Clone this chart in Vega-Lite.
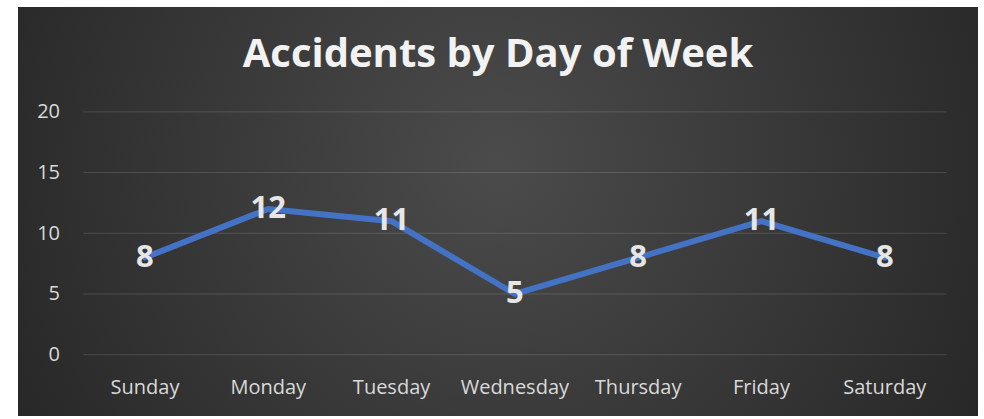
{
  "$schema": "https://vega.github.io/schema/vega-lite/v6.json",
  "width": 960,
  "height": 409,
  "autosize": {"type": "none"},
  "padding": {"left": 18, "top": 7, "right": 6, "bottom": 3},
  "background": "#ffffff",
  "view": {
    "stroke": null,
    "fill": {
      "gradient": "radial",
      "x1": 0.5, "y1": 0.45, "r1": 0,
      "x2": 0.5, "y2": 0.45, "r2": 0.62,
      "stops": [
        {"offset": 0, "color": "#4b4b4b"},
        {"offset": 1, "color": "#242424"}
      ]
    }
  },
  "title": {
    "text": "Accidents by Day of Week",
    "font": "Open Sans",
    "fontSize": 40,
    "fontWeight": "bold",
    "color": "#f2f2f2",
    "anchor": "middle",
    "frame": "group",
    "offset": -68
  },
  "config": {
    "axis": {
      "labelFont": "Open Sans",
      "labelFontSize": 20,
      "labelColor": "#d9d9d9",
      "grid": false,
      "domain": false,
      "ticks": false,
      "tickSize": 0,
      "labelPadding": 0
    },
    "axisX": {"offset": -23, "labelBaseline": "alphabetic", "labelAngle": 0},
    "axisY": {"offset": -41.5, "labelAlign": "right", "labelBaseline": "middle"}
  },
  "datasets": {
    "accidents": [
      {"day": "Sunday", "count": 8},
      {"day": "Monday", "count": 12},
      {"day": "Tuesday", "count": 11},
      {"day": "Wednesday", "count": 5},
      {"day": "Thursday", "count": 8},
      {"day": "Friday", "count": 11},
      {"day": "Saturday", "count": 8}
    ],
    "grid": [
      {"count": 0}, {"count": 5}, {"count": 10}, {"count": 15}, {"count": 20}
    ]
  },
  "layer": [
    {
      "data": {"name": "grid"},
      "mark": {"type": "rule", "color": "#ffffff", "opacity": 0.14, "strokeWidth": 1},
      "encoding": {
        "y": {"field": "count", "type": "quantitative",
              "scale": {"domain": [-5.05, 28.64], "nice": false, "zero": false},
              "axis": {"title": null, "values": [0, 5, 10, 15, 20]}},
        "x": {"datum": "Sunday", "type": "nominal", "bandPosition": 0,
              "sort": ["Sunday", "Monday", "Tuesday", "Wednesday", "Thursday", "Friday", "Saturday"],
              "scale": {"type": "band", "paddingInner": 0, "paddingOuter": 0.393, "align": 0.674},
              "axis": {"title": null}},
        "x2": {"datum": "Saturday", "bandPosition": 1}
      }
    },
    {
      "data": {"name": "accidents"},
      "mark": {"type": "line", "color": "#4472C4", "strokeWidth": 6, "strokeCap": "round", "strokeJoin": "round"},
      "encoding": {
        "x": {"field": "day", "type": "nominal",
              "sort": ["Sunday", "Monday", "Tuesday", "Wednesday", "Thursday", "Friday", "Saturday"],
              "scale": {"type": "band", "paddingInner": 0, "paddingOuter": 0.393, "align": 0.674},
              "axis": {"title": null}},
        "y": {"field": "count", "type": "quantitative",
              "scale": {"domain": [-5.05, 28.64], "nice": false, "zero": false},
              "axis": {"title": null, "values": [0, 5, 10, 15, 20]}}
      }
    },
    {
      "data": {"name": "accidents"},
      "mark": {"type": "text", "font": "Open Sans", "fontSize": 31, "fontWeight": "bold", "color": "#e6e6e6", "align": "center", "baseline": "middle"},
      "encoding": {
        "x": {"field": "day", "type": "nominal",
              "sort": ["Sunday", "Monday", "Tuesday", "Wednesday", "Thursday", "Friday", "Saturday"],
              "scale": {"type": "band", "paddingInner": 0, "paddingOuter": 0.393, "align": 0.674},
              "axis": {"title": null}},
        "y": {"field": "count", "type": "quantitative",
              "scale": {"domain": [-5.05, 28.64], "nice": false, "zero": false},
              "axis": {"title": null, "values": [0, 5, 10, 15, 20]}},
        "text": {"field": "count", "type": "quantitative"}
      }
    }
  ]
}
